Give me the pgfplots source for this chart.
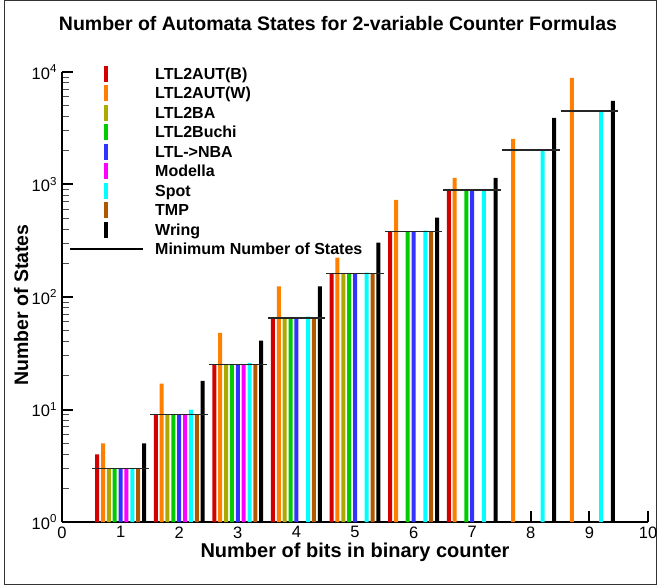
\documentclass[border=0pt]{standalone}
\usepackage{fontspec}
\setmainfont{Liberation Sans}
\usepackage{pgfplots}
\pgfplotsset{compat=1.18}
\definecolor{cR}{RGB}{212,0,0}
\definecolor{cO}{RGB}{255,128,0}
\definecolor{cOl}{RGB}{170,170,0}
\definecolor{cG}{RGB}{0,204,0}
\definecolor{cB}{RGB}{51,51,255}
\definecolor{cM}{RGB}{255,0,255}
\definecolor{cC}{RGB}{0,255,255}
\definecolor{cBr}{RGB}{176,88,0}
\definecolor{cK}{RGB}{0,0,0}
\newcommand{\tickfont}{\fontsize{16.5bp}{16.5bp}\selectfont}
\pgfplotsset{
  barleg/.style={legend image code/.code={\fill[#1] (-2bp,-8bp) rectangle (2bp,8bp); \path (-36.5bp,0) (36.5bp,0);}},
  mybar/.style 2 args={ybar, bar width=4bp, bar shift=#2, fill=#1, draw=none, barleg=#1},
}
\begin{document}
\begin{tikzpicture}
\useasboundingbox (0,0) rectangle (659bp,-586bp);
\draw[line width=0.8bp, black!80] (4.5bp,-0.5bp) rectangle (656.5bp,-584.5bp);
\begin{axis}[
  at={(62bp,-522bp)}, anchor=south west,
  scale only axis, width=586bp, height=450bp,
  xmin=0, xmax=10, ymin=1, ymax=10000, ymode=log,
  axis lines*=left,
  axis line style={line width=2bp},
  xtick={0,1,...,10},
  xticklabels={0,1,2,3,4,5,6,7,8,9,10},
  ytick={1,10,100,1000,10000},
  yticklabels={10\textsuperscript{0},10\textsuperscript{1},10\textsuperscript{2},10\textsuperscript{3},10\textsuperscript{4}},
  minor ytick={2,3,...,9,20,30,...,90,200,300,...,900,2000,3000,...,9000},
  tick align=inside,
  major tick length=11bp, minor tick length=7bp,
  every major tick/.append style={line width=2bp, black},
  every minor tick/.append style={line width=1bp, black!70},
  xticklabel style={font=\tickfont, yshift=-1bp},
  yticklabel style={font=\tickfont, xshift=-1.5bp},
  title={Number of Automata States for 2-variable Counter Formulas},
  title style={at={(axis description cs:0.471,1)}, anchor=center, yshift=42bp, font=\bfseries\fontsize{19.5bp}{20bp}\selectfont},
  xlabel={Number of bits in binary counter},
  xlabel style={at={(axis description cs:0.5,0)}, anchor=base, yshift=-35bp, font=\bfseries\fontsize{20bp}{20bp}\selectfont},
  ylabel={Number of States},
  ylabel style={at={(axis description cs:-0.058,0.482)}, anchor=base, font=\bfseries\fontsize{19.5bp}{20bp}\selectfont},
  legend style={at={(axis description cs:0.01195,1.01333)}, anchor=north west, draw=none, fill=none,
    inner sep=0pt, outer sep=0pt, row sep=3.5bp, column sep=12bp,
    font=\bfseries\fontsize{16bp}{16bp}\selectfont,
    nodes={inner sep=0pt, text height=13bp, text depth=2bp}},
  legend cell align=left,
]
\addplot[mybar={cR}{-23.44bp}] coordinates {(1,4) (2,9) (3,25) (4,65) (5,161) (6,381) (7,893)};
\addlegendentry{LTL2AUT(B)}
\addplot[mybar={cO}{-17.58bp}] coordinates {(1,5) (2,17) (3,48) (4,124) (5,224) (6,732) (7,1148) (8,2546) (9,8850)};
\addlegendentry{LTL2AUT(W)}
\addplot[mybar={cOl}{-11.72bp}] coordinates {(1,3) (2,9) (3,25) (4,65) (5,161)};
\addlegendentry{LTL2BA}
\addplot[mybar={cG}{-5.86bp}] coordinates {(1,3) (2,9) (3,25) (4,65) (5,161) (6,381) (7,893)};
\addlegendentry{LTL2Buchi}
\addplot[mybar={cB}{0bp}] coordinates {(1,3) (2,9) (3,25) (4,65) (5,161) (6,381) (7,893)};
\addlegendentry{LTL->NBA}
\addplot[mybar={cM}{5.86bp}] coordinates {(1,3) (2,9) (3,25)};
\addlegendentry{Modella}
\addplot[mybar={cC}{11.72bp}] coordinates {(1,3) (2,10) (3,26) (4,67) (5,165) (6,389) (7,893) (8,2022) (9,4510)};
\addlegendentry{Spot}
\addplot[mybar={cBr}{17.58bp}] coordinates {(1,3) (2,9) (3,25) (4,65) (5,161) (6,381)};
\addlegendentry{TMP}
\addplot[mybar={cK}{23.44bp}] coordinates {(1,5) (2,18) (3,41) (4,124) (5,304) (6,507) (7,1148) (8,3908) (9,5530)};
\addlegendentry{Wring}
\addplot[black!85, line width=1.5bp, unbounded coords=jump,
  legend image code/.code={\draw[black, line width=1.2bp] (-36.5bp,0) -- (36.5bp,0);}]
  coordinates {(0.51,3) (1.49,3) (1.5,nan) (1.51,9) (2.49,9) (2.5,nan) (2.51,25) (3.49,25) (3.5,nan)
    (3.51,65) (4.49,65) (4.5,nan) (4.51,161) (5.49,161) (5.5,nan) (5.51,381) (6.49,381) (6.5,nan)
    (6.51,893) (7.49,893) (7.5,nan) (7.51,2022) (8.49,2022) (8.5,nan) (8.51,4510) (9.49,4510)};
\addlegendentry{Minimum Number of States}
\end{axis}
\end{tikzpicture}
\end{document}
